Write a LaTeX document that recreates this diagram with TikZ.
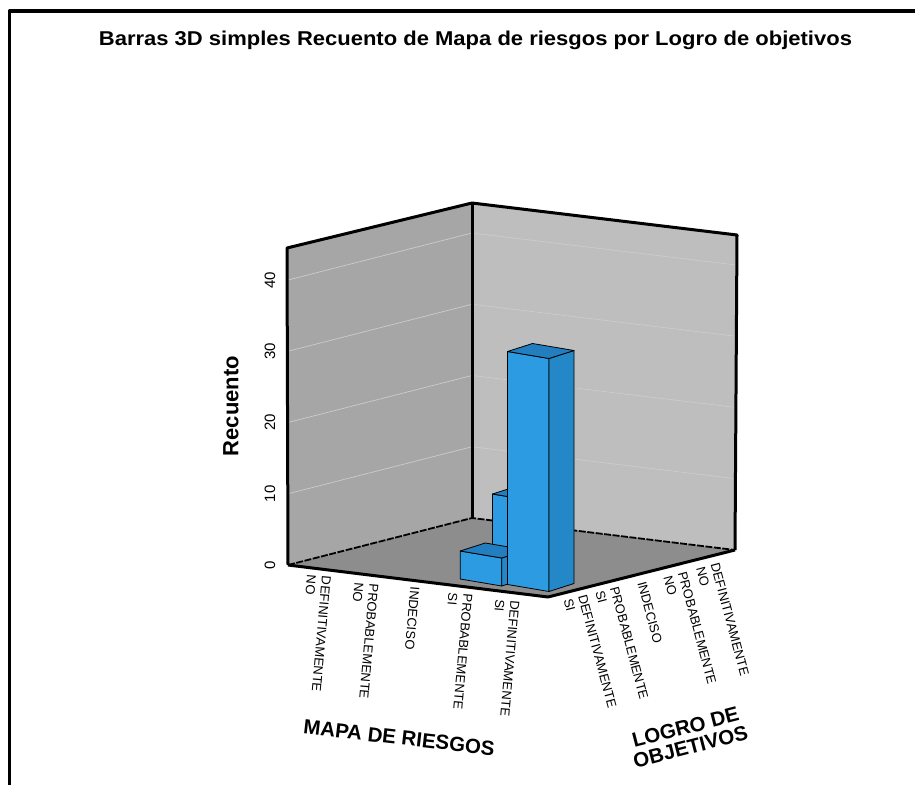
\documentclass[tikz,border=0pt]{standalone}
\usepackage{fontspec}
\setmainfont{Liberation Sans}
\usepackage{xcolor}

\definecolor{wallleft}{RGB}{166,166,166}
\definecolor{wallright}{RGB}{190,190,190}
\definecolor{floorgray}{RGB}{141,141,141}
\definecolor{gridgray}{RGB}{204,204,204}
\definecolor{barblue}{RGB}{44,155,226}
\definecolor{barblueside}{RGB}{36,136,200}
\definecolor{barbluetop}{RGB}{34,126,190}

\newcommand{\titlefont}{\fontsize{20bp}{24bp}\selectfont\bfseries}
\newcommand{\recfont}{\fontsize{22bp}{26bp}\selectfont\bfseries}
\newcommand{\axisfont}{\fontsize{20.5bp}{20bp}\selectfont\bfseries}
\newcommand{\tickfont}{\fontsize{15bp}{18bp}\selectfont}
\newcommand{\catfont}{\fontsize{13bp}{15bp}\selectfont}

\newcommand{\drawcolumn}[3]{%
    \filldraw[front_face] ({#1-41.5},{#2-7}) -- (#1,#2) -- (#1,{#2-#3}) -- ({#1-41.5},{#2-7-#3}) -- cycle;
    \filldraw[side_face] (#1,#2) -- ({#1+25},{#2-8}) -- ({#1+25},{#2-8-#3}) -- (#1,{#2-#3}) -- cycle;
    \filldraw[top_face] ({#1-41.5},{#2-7-#3}) -- (#1,{#2-#3}) -- ({#1+25},{#2-8-#3}) -- ({#1-16.5},{#2-15-#3}) -- cycle;
}

\begin{document}
\begin{tikzpicture}[x=1bp, y=-1bp, line join=round,
    every node/.style={inner sep=0pt},
    edge_line/.style={line width=3bp, black},
    base_line/.style={line width=1.8bp, black, dash pattern=on 7bp off 1.5bp},
    grid_line/.style={line width=0.7bp, gridgray},
    front_face/.style={fill=barblue, draw=black, line width=0.8bp},
    side_face/.style={fill=barblueside, draw=black, line width=0.8bp},
    top_face/.style={fill=barbluetop, draw=black, line width=0.8bp},
    tick_label/.style={font=\tickfont, rotate=90},
    mapa_label/.style={font=\catfont, rotate=-95, anchor=west, align=left},
    logro_label/.style={font=\catfont, rotate=-75, anchor=west, align=left},
    axis_title/.style={font=\axisfont, align=center}
]
    \useasboundingbox (0,0) rectangle (915,785);

    \draw[line width=3.5bp] (9.5,790) -- (9.5,10.8) -- (920,10.8);

    \node (chart_title) [shift={(475.5,45.7)}, anchor=base, font=\titlefont]
    {
        \scalebox{1.1}[1]{Barras 3D simples Recuento de Mapa de riesgos por Logro de objetivos}
    };

    \coordinate (floor_left) at (288,565);
    \coordinate (floor_back) at (472,518);
    \coordinate (floor_right) at (735,550);
    \coordinate (floor_front) at (548,597);
    \coordinate (top_left) at (287,248);
    \coordinate (top_back) at (472,203);
    \coordinate (top_right) at (737,235);

    \fill[wallleft] (floor_left) -- (top_left) -- (top_back) -- (floor_back) -- cycle;
    \fill[wallright] (floor_back) -- (top_back) -- (top_right) -- (floor_right) -- cycle;
    \fill[floorgray] (floor_left) -- (floor_back) -- (floor_right) -- (floor_front) -- cycle;

    \foreach \v in {10,20,30,40}
        \draw[grid_line] (288,{565-7.125*\v}) -- (472,{518-7.125*\v}) -- (736,{550-7.125*\v});

    \draw[base_line] (floor_left) -- (floor_back) -- (floor_right);
    \draw[edge_line] (floor_left) -- (floor_front) -- (floor_right);
    \draw[edge_line] (floor_left) -- (top_left) -- (top_back) -- (top_right) -- (floor_right);
    \draw[edge_line] (top_back) -- (floor_back);

    \drawcolumn{534}{577}{76}
    \drawcolumn{501.7}{586}{28}
    \drawcolumn{549}{591.5}{233}

    \foreach \v in {0,10,20,30,40}
        \node (tick_\v) [shift={(270,{565-7.125*\v})}, tick_label] {\v};

    \node (recuento_label) [shift={(231,406)}, rotate=90, font=\recfont]
    {
        Recuento
    };

    \node (mapa_def_no) [shift={(319,575.5)}, mapa_label] {DEFINITIVAMENTE\\NO};
    \node (mapa_prob_no) [shift={(366.5,583)}, mapa_label] {PROBABLEMENTE\\NO};
    \node (mapa_indeciso) [shift={(415,586.7)}, mapa_label] {INDECISO};
    \node (mapa_prob_si) [shift={(460.5,593.5)}, mapa_label] {PROBABLEMENTE\\SI};
    \node (mapa_def_si) [shift={(507.5,600)}, mapa_label] {DEFINITIVAMENTE\\SI};

    \node (logro_def_si) [shift={(575,597)}, logro_label] {DEFINITIVAMENTE\\SI};
    \node (logro_prob_si) [shift={(607,589)}, logro_label] {PROBABLEMENTE\\SI};
    \node (logro_indeciso) [shift={(641.7,582)}, logro_label] {INDECISO};
    \node (logro_prob_no) [shift={(675,574)}, logro_label] {PROBABLEMENTE\\NO};
    \node (logro_def_no) [shift={(707.5,565)}, logro_label] {DEFINITIVAMENTE\\NO};

    \node (mapa_title) [shift={(402,738)}, axis_title, rotate=-6.5]
    {
        MAPA DE RIESGOS
    };

    \node (logro_title) [shift={(688,737)}, axis_title, rotate=14.5]
    {
        LOGRO DE\\OBJETIVOS
    };
\end{tikzpicture}
\end{document}
